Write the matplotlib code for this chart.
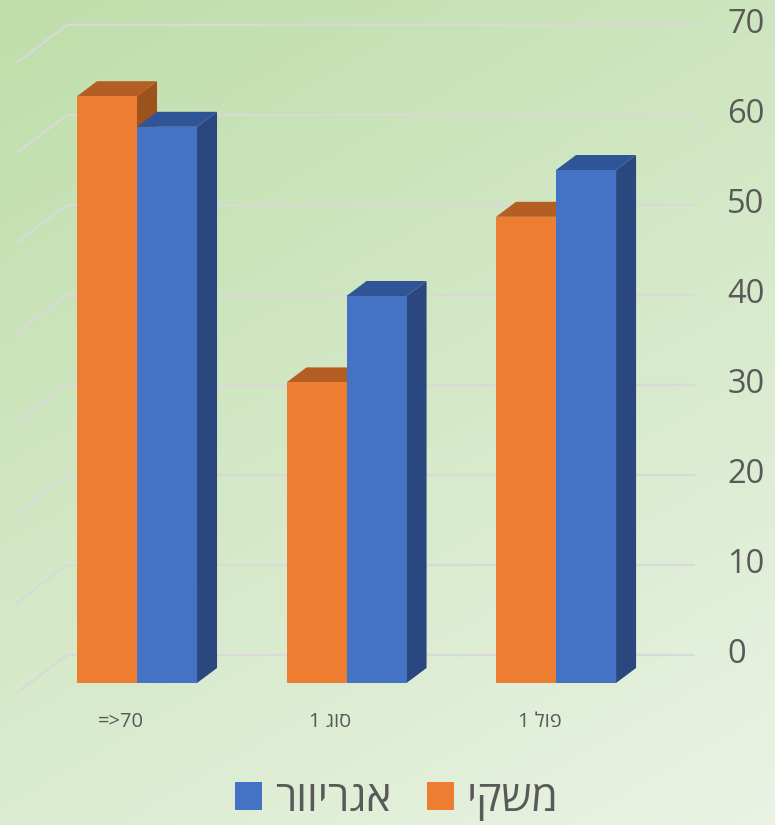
import numpy as np
import matplotlib
matplotlib.use("Agg")
import matplotlib.pyplot as plt
from matplotlib.patches import Polygon, Patch

# category labels (stored in left-to-right glyph order, matplotlib has no bidi)
categories = ["=>70", "1 גוס", "1 לופ"]
series_names = ["יקשמ", "רווירגא"]
orange_vals = [65.2, 33.4, 51.8]
blue_vals = [61.8, 43.0, 57.0]
yticks = [0, 10, 20, 30, 40, 50, 60, 70]

plt.rcParams["font.family"] = ["Open Sans", "DejaVu Sans"]
txt_color = "#595959"

W, H = 775, 825
fig = plt.figure(figsize=(W / 100, H / 100), dpi=100)
ax = fig.add_axes([0, 0, 1, 1])
xlo, xhi, ylo, yhi = -0.654, 3.045, -15.78, 75.89
ax.axis("off")

# green background, darker at the top left, fading down to the bottom right
gx, gy = np.meshgrid(np.linspace(0, 1, 300), np.linspace(0, 1, 300))
t = np.clip((gx * 0.35 + gy * 0.65), 0, 1)[..., None]
c0 = np.array([190, 222, 170]) / 255
c1 = np.array([234, 243, 228]) / 255
bg = c0 * (1 - t) + c1 * t
ax.imshow(bg, extent=[xlo, xhi, ylo, yhi], origin="upper", aspect="auto", zorder=0)
ax.set_xlim(xlo, xhi)
ax.set_ylim(ylo, yhi)

# oblique depth: one bar-depth unit shifts right and up
ddx, ddy = 0.0955, 1.667
z_back, z_front = 1.867, -0.667
wall_x0 = -0.512  # side wall plane at z=0
x_right = 2.663

grid_kw = dict(color="#d9d9d9", lw=1.6, zorder=1, solid_capstyle="butt")
for v in yticks:
    yb = v + z_back * ddy
    xb = wall_x0 + z_back * ddx
    ax.plot([xb, x_right], [yb, yb], **grid_kw)
    ax.plot([xb, wall_x0 + z_front * ddx], [yb, v + z_front * ddy], **grid_kw)
    ax.text((727 - 137) / 209.5, yb, str(v), ha="left", va="center",
            fontsize=23.5, color=txt_color)

bw = 0.2864
styles = [("#ed7d31", "#b55e23", "#9c521d"), ("#4472c4", "#2f5597", "#2a4780")]


def draw_bar(x0, v, cols):
    front, top, side = cols
    x1 = x0 + bw
    ax.add_patch(Polygon([(x1, 0), (x1 + ddx, ddy), (x1 + ddx, v + ddy), (x1, v)],
                         closed=True, fc=side, ec="none", zorder=3))
    ax.add_patch(Polygon([(x0, v), (x1, v), (x1 + ddx, v + ddy), (x0 + ddx, v + ddy)],
                         closed=True, fc=top, ec="none", zorder=3))
    ax.bar(x0, v, bw, align="edge", color=front, zorder=3)


for i in range(len(categories)):
    draw_bar(i - bw, orange_vals[i], styles[0])
    draw_bar(i, blue_vals[i], styles[1])
    ax.text(i - 0.077, -4.33, categories[i], ha="center", va="center",
            fontsize=14.5, color=txt_color)

handles = [Patch(fc=styles[1][0], ec="none", label=series_names[1]),
           Patch(fc=styles[0][0], ec="none", label=series_names[0])]
fig.legend(handles=handles, loc="center", bbox_to_anchor=(397 / W, 1 - 800 / H),
           ncol=2, frameon=False, fontsize=30.5, labelcolor=txt_color,
           handlelength=0.64, handleheight=0.64, handletextpad=0.3,
           columnspacing=0.85)

fig.savefig("out.png", dpi=100)
